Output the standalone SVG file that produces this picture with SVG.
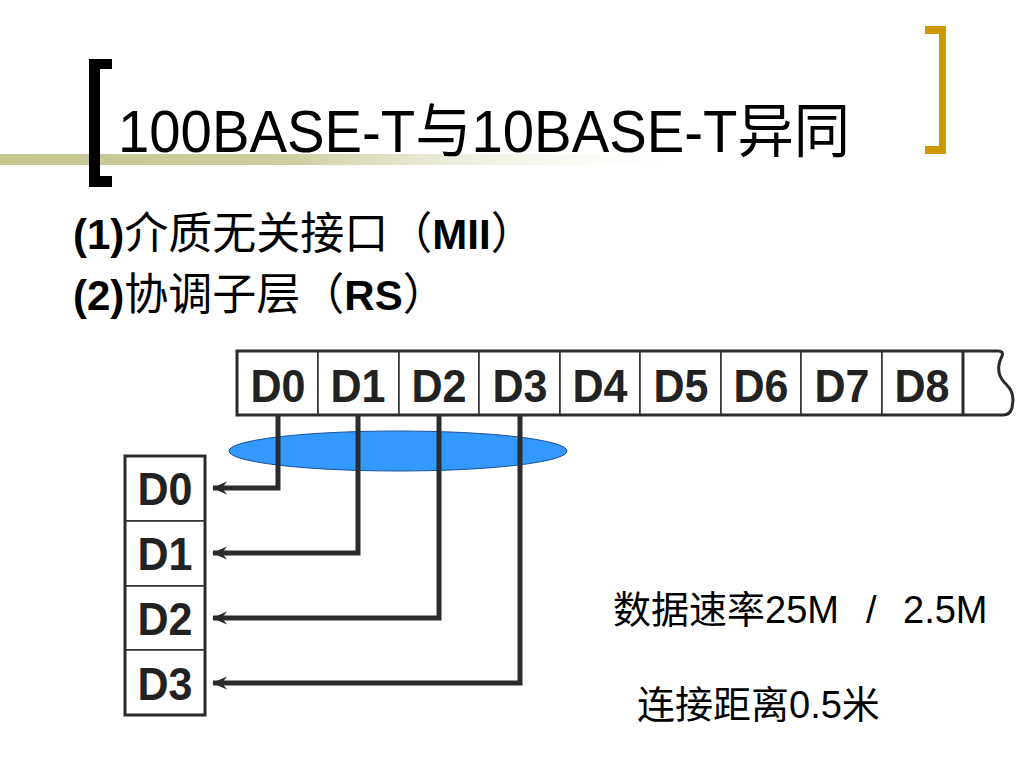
<svg xmlns="http://www.w3.org/2000/svg" width="1024" height="768" viewBox="0 0 1024 768">
<defs>
<linearGradient id="band" gradientUnits="userSpaceOnUse" x1="0" y1="0" x2="720" y2="0">
<stop offset="0" stop-color="#c6c690"/>
<stop offset="0.4" stop-color="#cdcda2"/>
<stop offset="1" stop-color="#ffffff" stop-opacity="0"/>
</linearGradient>
<marker id="arr" markerWidth="18" markerHeight="16" refX="15" refY="8" orient="auto" markerUnits="userSpaceOnUse" overflow="visible">
<path d="M16,8 L1,1.5 L6,8 L1,14.5 Z" fill="#2b2b2b"/>
</marker>
<style>
.t{font-family:"Liberation Sans","Noto Sans CJK SC",sans-serif;fill:#000}
.c{font-family:"Noto Sans CJK SC","Liberation Sans",sans-serif}
.b{font-family:"Liberation Sans","Noto Sans CJK SC",sans-serif;font-weight:bold;fill:#222}
.cell{fill:#fff;stroke:#2b2b2b;stroke-width:1.5}
.outer{fill:none;stroke:#2b2b2b;stroke-width:3}
</style>
</defs>
<rect width="1024" height="768" fill="#fff"/>
<g id="title">
<rect x="0" y="154" width="720" height="11" fill="url(#band)"/>
<path d="M89,59 H112 V69 H100 V176 H112 V187 H89 Z" fill="#000"/>
<path d="M925,26 H946 V154 H925 V146 H939 V34 H925 Z" fill="#cc9900"/>
<text class="t" x="118" y="152" font-size="59" textLength="732" lengthAdjust="spacingAndGlyphs">100BASE-T与10BASE-T异同</text>
</g>
<g id="bullets">
<text class="t" x="73" y="249" font-size="42"><tspan font-weight="bold">(1)</tspan><tspan class="c" font-size="44">介质无关接口（</tspan><tspan font-weight="bold">MII</tspan><tspan class="c" font-size="44">）</tspan></text>
<text class="t" x="73" y="310" font-size="42"><tspan font-weight="bold">(2)</tspan><tspan class="c" font-size="44">协调子层（</tspan><tspan font-weight="bold">RS</tspan><tspan class="c" font-size="44">）</tspan></text>
</g>
<g id="top-bar">
<rect class="cell" x="237" y="351" width="81" height="64"/>
<rect class="cell" x="318" y="351" width="81" height="64"/>
<rect class="cell" x="399" y="351" width="80" height="64"/>
<rect class="cell" x="479" y="351" width="81" height="64"/>
<rect class="cell" x="560" y="351" width="80" height="64"/>
<rect class="cell" x="640" y="351" width="81" height="64"/>
<rect class="cell" x="721" y="351" width="80" height="64"/>
<rect class="cell" x="801" y="351" width="81" height="64"/>
<rect class="cell" x="882" y="351" width="81" height="64"/>
<path class="outer" d="M963,351 H237 V415 H963"/>
<path class="outer" d="M963,351 V415"/>
<path class="outer" d="M963,351 H998 Q1004,351 1002,356 C998,364 997,374 1004,382 C1010,388 1013,392 1013,400 L1012,408 Q1010,415 1003,415 H963"/>
<g text-anchor="middle" font-size="46">
<text class="b" x="278" y="402" textLength="55" lengthAdjust="spacingAndGlyphs">D0</text>
<text class="b" x="358" y="402" textLength="55" lengthAdjust="spacingAndGlyphs">D1</text>
<text class="b" x="439" y="402" textLength="55" lengthAdjust="spacingAndGlyphs">D2</text>
<text class="b" x="520" y="402" textLength="55" lengthAdjust="spacingAndGlyphs">D3</text>
<text class="b" x="600" y="402" textLength="55" lengthAdjust="spacingAndGlyphs">D4</text>
<text class="b" x="681" y="402" textLength="55" lengthAdjust="spacingAndGlyphs">D5</text>
<text class="b" x="761" y="402" textLength="55" lengthAdjust="spacingAndGlyphs">D6</text>
<text class="b" x="842" y="402" textLength="55" lengthAdjust="spacingAndGlyphs">D7</text>
<text class="b" x="922" y="402" textLength="55" lengthAdjust="spacingAndGlyphs">D8</text>
</g>
</g>
<g id="group-ellipse">
<ellipse cx="398" cy="451" rx="169" ry="20" fill="#3399ff" stroke="#1a4f9a" stroke-width="1"/>
</g>
<g id="left-column">
<rect class="cell" x="125" y="456" width="80" height="65"/>
<rect class="cell" x="125" y="521" width="80" height="65"/>
<rect class="cell" x="125" y="586" width="80" height="64"/>
<rect class="cell" x="125" y="650" width="80" height="65"/>
<rect x="125" y="456" width="80" height="259" fill="none" stroke="#2b2b2b" stroke-width="3"/>
<g text-anchor="middle" font-size="46">
<text class="b" x="165" y="505" textLength="55" lengthAdjust="spacingAndGlyphs">D0</text>
<text class="b" x="165" y="570" textLength="55" lengthAdjust="spacingAndGlyphs">D1</text>
<text class="b" x="165" y="635" textLength="55" lengthAdjust="spacingAndGlyphs">D2</text>
<text class="b" x="165" y="700" textLength="55" lengthAdjust="spacingAndGlyphs">D3</text>
</g>
</g>
<g id="connectors" fill="none" stroke="#2b2b2b" stroke-width="5">
<path d="M278,416 V488 H213" marker-end="url(#arr)"/>
<path d="M358,416 V553 H213" marker-end="url(#arr)"/>
<path d="M439,416 V618 H213" marker-end="url(#arr)"/>
<path d="M520,416 V683 H213" marker-end="url(#arr)"/>
</g>
<g id="notes">
<text class="t" y="623" font-size="38" fill="#111"><tspan x="613">数据速率25M</tspan><tspan x="866">/</tspan><tspan x="903">2.5M</tspan></text>
<text class="t" x="637" y="718" font-size="38" fill="#111">连接距离0.5米</text>
</g>
</svg>
